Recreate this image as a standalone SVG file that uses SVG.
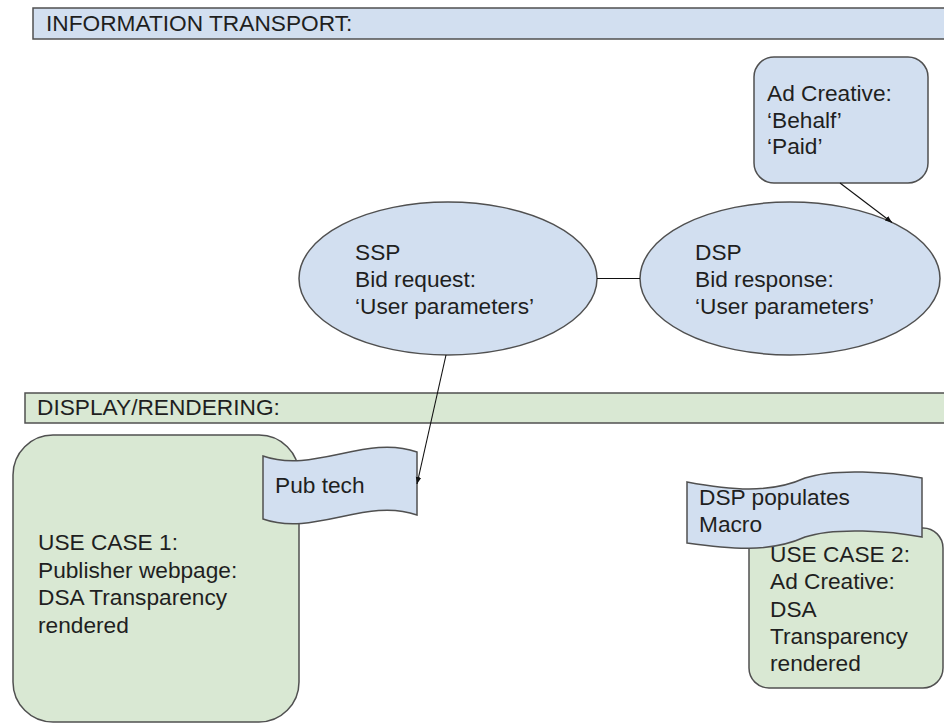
<svg xmlns="http://www.w3.org/2000/svg" width="944" height="724" viewBox="0 0 944 724">
<defs>
<style>
.t{font-family:"Liberation Sans",Arial,sans-serif;font-size:22.7px;fill:#1f1f1f}
.blue{fill:#d2dff0;stroke:#505050;stroke-width:1.5}
.green{fill:#d9e8d3;stroke:#505050;stroke-width:1.5}
.conn{stroke:#111;stroke-width:1.1;fill:none}
</style>
<marker id="ah" viewBox="0 0 10 10" refX="10" refY="5" markerWidth="7" markerHeight="7" markerUnits="userSpaceOnUse" orient="auto">
<path d="M0,1 L10,5 L0,9 Z" fill="#111"/>
</marker>
</defs>
<rect width="944" height="724" fill="#ffffff"/>

<g id="info-transport">
<rect class="blue" x="33" y="8" width="930" height="31"/>
<text class="t" x="46" y="31">INFORMATION TRANSPORT:</text>
</g>

<g id="display-rendering">
<rect class="green" x="25" y="393" width="940" height="30"/>
<text class="t" x="37" y="415">DISPLAY/RENDERING:</text>
</g>

<g id="ad-creative">
<rect class="blue" x="754" y="57" width="174" height="126" rx="20"/>
<text class="t" x="767" y="101">Ad Creative:</text>
<text class="t" x="767" y="127.5">‘Behalf’</text>
<text class="t" x="767" y="154">‘Paid’</text>
</g>

<g id="ssp">
<ellipse class="blue" cx="448" cy="278.5" rx="149" ry="76.5"/>
<text class="t" x="355" y="260">SSP</text>
<text class="t" x="355" y="287">Bid request:</text>
<text class="t" x="355" y="314">‘User parameters’</text>
</g>

<g id="dsp">
<ellipse class="blue" cx="790" cy="278.5" rx="150" ry="76.5"/>
<text class="t" x="695" y="260">DSP</text>
<text class="t" x="695" y="287">Bid response:</text>
<text class="t" x="695" y="314">‘User parameters’</text>
</g>

<g id="use-case-1">
<rect class="green" x="13" y="435" width="286" height="287" rx="40"/>
<text class="t" x="38" y="550">USE CASE 1:</text>
<text class="t" x="38" y="578">Publisher webpage:</text>
<text class="t" x="38" y="605">DSA Transparency</text>
<text class="t" x="38" y="633">rendered</text>
</g>

<g id="pub-tech">
<path class="blue" d="M263,456 C314,474 366,434 417,452 L417,515 C366,497 314,537 263,519 Z"/>
<text class="t" x="275" y="493">Pub tech</text>
</g>

<g id="use-case-2">
<rect class="green" x="749" y="528" width="194" height="160" rx="20"/>
<text class="t" x="770" y="562">USE CASE 2:</text>
<text class="t" x="770" y="589">Ad Creative:</text>
<text class="t" x="770" y="617">DSA</text>
<text class="t" x="770" y="644">Transparency</text>
<text class="t" x="770" y="671">rendered</text>
</g>

<g id="dsp-populates">
<path class="blue" d="M687,482 C730,490 770,494 805,478 C835,468 890,472 922,478 L922,537 C890,531 835,527 805,537 C770,553 730,549 687,543 Z"/>
<text class="t" x="699" y="505">DSP populates</text>
<text class="t" x="699" y="532">Macro</text>
</g>

<g id="connectors">
<line class="conn" x1="597" y1="278.5" x2="640" y2="278.5"/>
<line class="conn" x1="840" y1="183" x2="892" y2="222.5" marker-end="url(#ah)"/>
<line class="conn" x1="446" y1="355" x2="417" y2="484" marker-end="url(#ah)"/>
</g>
</svg>
